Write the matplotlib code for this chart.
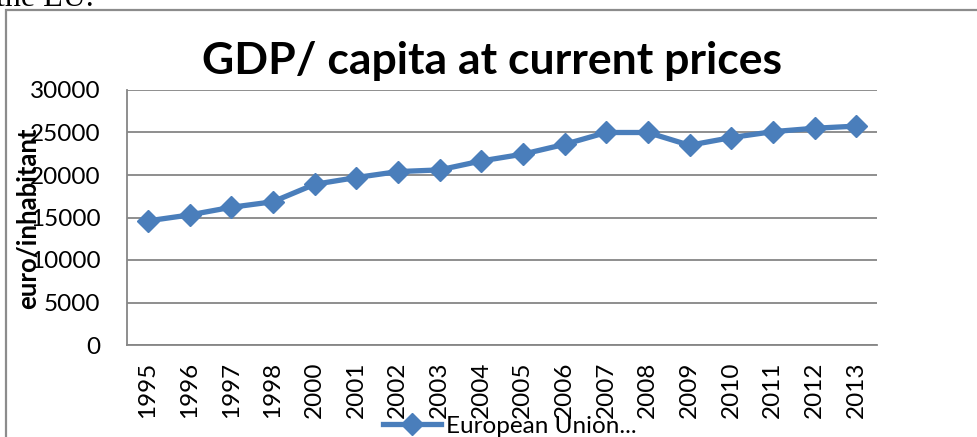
"""
GDP per capita at current prices, European Union, 1995-2013.
"""

import matplotlib
matplotlib.use('Agg')
from matplotlib import pyplot as plt
from matplotlib.patches import Rectangle

YEARS = ['1995', '1996', '1997', '1998', '2000', '2001', '2002', '2003',
         '2004', '2005', '2006', '2007', '2008', '2009', '2010', '2011',
         '2012', '2013']
GDP_EU = [14600, 15300, 16200, 16850, 18900, 19700, 20400, 20600,
          21650, 22450, 23600, 25000, 25000, 23500, 24400, 25100,
          25500, 25750]
YTICKS = [0, 5000, 10000, 15000, 20000, 25000, 30000]
SERIES = 'European Union...'

BLUE = '#4a7ebb'
GRID = '#868686'
FS = 17.5

plt.rcParams['font.family'] = ['Lato', 'DejaVu Sans']
plt.rcParams['font.size'] = FS

fig = plt.figure(figsize=(9.78, 4.37), dpi=100)

# chart frame (only top and left edges fall inside the picture)
top = 1 - 10 / 437
fig.patches.append(Rectangle((6 / 978, -0.2), 1.2, top + 0.2,
                             transform=fig.transFigure, fill=False,
                             edgecolor='#8c8c8c', linewidth=1.6))

# bit of the document text above the chart
fig.text(-0.004, 1 - 6 / 437, 'the EU.', family='Liberation Serif',
         fontsize=23, va='baseline', ha='left')

ax = fig.add_axes([127 / 978, 1 - 345 / 437, 750 / 978, 255 / 437])
x = range(len(YEARS))
ax.plot(x, GDP_EU, color=BLUE, linewidth=3.8, marker='D',
        markersize=11, markeredgecolor=BLUE, label=SERIES,
        solid_joinstyle='round', zorder=3)

ax.set_xlim(-0.5, len(YEARS) - 0.5)
ax.set_ylim(0, 30000)
ax.set_yticks(YTICKS)
ax.set_yticklabels([str(v) for v in YTICKS])
ax.set_xticks(list(x))
ax.set_xticklabels(YEARS, rotation=90)
ax.tick_params(axis='y', length=0, pad=19, labelsize=FS)
ax.tick_params(axis='x', length=0, pad=12, labelsize=FS)

ax.grid(axis='y', color=GRID, linewidth=1.3)
ax.set_axisbelow(True)
for side in ('top', 'right'):
    ax.spines[side].set_visible(False)
for side in ('left', 'bottom'):
    ax.spines[side].set_color(GRID)
    ax.spines[side].set_linewidth(1.3)

fig.text(0.5 + 3 / 978, 1 - 61 / 437, 'GDP/ capita at current prices',
         fontsize=32, fontweight='bold', ha='center', va='center')
fig.text(28 / 978, 1 - 218 / 437, 'euro/inhabitant', fontsize=18.5,
         fontweight='bold', rotation=90, ha='center', va='center')

fig.legend(loc='center left', bbox_to_anchor=(383 / 978, 1 - 426 / 437),
           frameon=False, fontsize=FS, handlelength=2.4,
           handletextpad=0.2, borderpad=0, borderaxespad=0)

fig.savefig('out.png', dpi=100)
